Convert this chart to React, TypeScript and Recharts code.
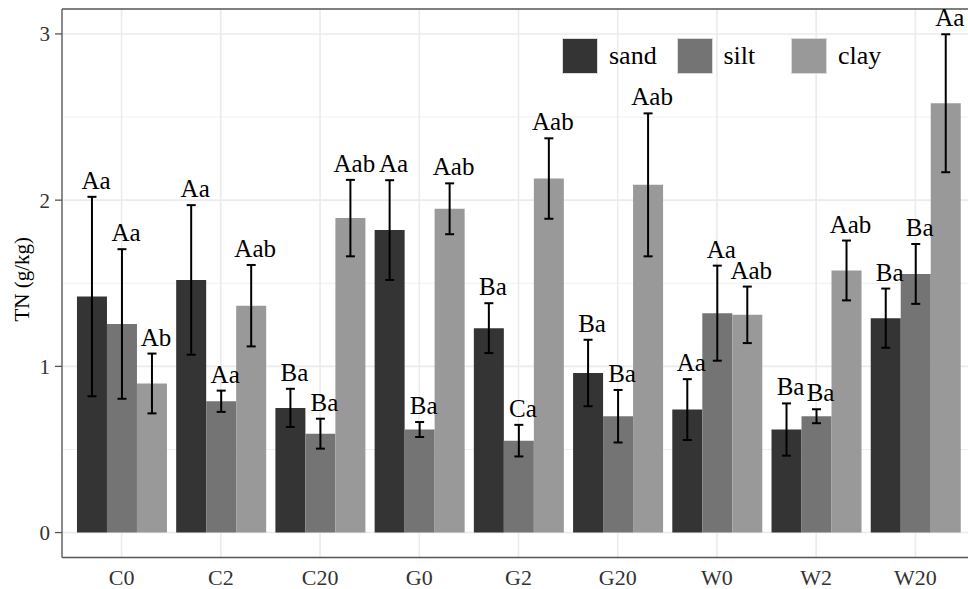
import {
  BarChart,
  Bar,
  XAxis,
  YAxis,
  CartesianGrid,
  ErrorBar,
  LabelList,
  Legend,
  ReferenceLine,
} from "recharts";

const treatments = ["C0", "C2", "C20", "G0", "G2", "G20", "W0", "W2", "W20"];

const sandMean = [1.42, 1.52, 0.75, 1.82, 1.23, 0.96, 0.74, 0.62, 1.29];
const sandSe = [0.6, 0.45, 0.115, 0.3, 0.15, 0.2, 0.183, 0.157, 0.178];
const sandLetters = ["Aa", "Aa", "Ba", "Aa", "Ba", "Ba", "Aa", "Ba", "Ba"];

const siltMean = [1.255, 0.79, 0.595, 0.62, 0.553, 0.7, 1.32, 0.7, 1.556];
const siltSe = [0.45, 0.064, 0.09, 0.045, 0.095, 0.158, 0.286, 0.042, 0.18];
const siltLetters = ["Aa", "Aa", "Ba", "Ba", "Ca", "Ba", "Aa", "Ba", "Ba"];

const clayMean = [0.897, 1.365, 1.892, 1.948, 2.13, 2.092, 1.31, 1.577, 2.583];
const claySe = [0.18, 0.245, 0.23, 0.153, 0.242, 0.43, 0.17, 0.18, 0.415];
const clayLetters = ["Ab", "Aab", "Aab", "Aab", "Aab", "Aab", "Aab", "Aab", "Aa"];

const seriesOrder = ["sand", "silt", "clay"];
const yTicks = [0, 1, 2, 3];
const minorTicks = [0.5, 1.5, 2.5];

const data = treatments.map((name, i) => ({
  name,
  sand: sandMean[i],
  sandSe: sandSe[i],
  silt: siltMean[i],
  siltSe: siltSe[i],
  clay: clayMean[i],
  claySe: claySe[i],
}));

const FONT = "Liberation Serif";

// letters sit just above the top of each error bar
const letterLabel =
  (means: number[], ses: number[], letters: string[]) => (props: any) => {
    const x = Number(props.x);
    const y = Number(props.y);
    const w = Number(props.width);
    const h = Number(props.height);
    const i = props.index;
    const perUnit = h / means[i];
    const top = y - ses[i] * perUnit;
    return (
      <text
        x={x + w / 2 + 4}
        y={top - 8}
        textAnchor="middle"
        style={{ fontFamily: FONT, fontSize: 25 }}
        fill="#000"
      >
        {letters[i]}
      </text>
    );
  };

function LegendBox(props: any) {
  const items = [...(props.payload || [])].sort(
    (a: any, b: any) => seriesOrder.indexOf(a.value) - seriesOrder.indexOf(b.value)
  );
  return (
    <div style={{ display: "flex", fontFamily: FONT, fontSize: 26 }}>
      {items.map((it: any) => (
        <div
          key={it.value}
          style={{ display: "flex", alignItems: "center", width: 114.5 }}
        >
          <div
            style={{
              width: 34,
              height: 34,
              background: it.color,
              border: "1px solid #d9d9d9",
              marginRight: 11,
            }}
          />
          <span style={{ color: "#000", lineHeight: "34px" }}>{it.value}</span>
        </div>
      ))}
    </div>
  );
}

export default function App() {
  return (
    <div
      style={{
        position: "fixed",
        left: 0,
        top: 0,
        width: 968,
        height: 589,
        overflow: "hidden",
        background: "#fff",
        fontFamily: FONT,
      }}
    >
      <BarChart
        width={990}
        height={589}
        data={data}
        margin={{ top: 9, right: 15, left: 0, bottom: 0 }}
        barCategoryGap="5%"
        barGap={0}
        style={{ fontFamily: FONT }}
      >
        <CartesianGrid
          horizontalValues={minorTicks}
          vertical={false}
          stroke="#f0f0f0"
          strokeWidth={1}
        />
        <CartesianGrid
          horizontalValues={yTicks}
          stroke="#ebebeb"
          strokeWidth={1.6}
        />
        <XAxis
          dataKey="name"
          padding={{ left: 10, right: 10 }}
          height={31.5}
          tickLine={false}
          tickSize={6}
          tickMargin={6}
          axisLine={{ stroke: "#555", strokeWidth: 1.3 }}
          tick={{ fontSize: 22, fontFamily: FONT, fill: "#333" }}
        />
        <YAxis
          type="number"
          domain={[-0.15, 3.15]}
          ticks={yTicks}
          width={62}
          tickSize={7}
          tickMargin={5}
          tickLine={{ stroke: "#555", strokeWidth: 1.3 }}
          axisLine={{ stroke: "#555", strokeWidth: 1.3 }}
          tick={{ fontSize: 21, fontFamily: FONT, fill: "#333" }}
          label={{
            content: (p: any) => {
              const vb = p.viewBox || {};
              const cx = 22;
              const cy = (vb.y || 0) + (vb.height || 0) / 2 - 4;
              return (
                <text
                  x={cx}
                  y={cy}
                  transform={`rotate(-90, ${cx}, ${cy})`}
                  textAnchor="middle"
                  dominantBaseline="central"
                  style={{ fontFamily: FONT, fontSize: 21 }}
                  fill="#000"
                >
                  TN (g/kg)
                </text>
              );
            },
          }}
        />
        <ReferenceLine y={3.15} stroke="#555" strokeWidth={1.3} />
        <Legend
          layout="horizontal"
          verticalAlign="middle"
          align="center"
          content={<LegendBox />}
          wrapperStyle={{ left: 562, top: 38, width: "auto", height: "auto" }}
        />
        <Bar dataKey="sand" name="sand" fill="#343434" isAnimationActive={false}>
          <ErrorBar dataKey="sandSe" direction="y" width={4.5} strokeWidth={2} stroke="#000" />
          <LabelList content={letterLabel(sandMean, sandSe, sandLetters)} />
        </Bar>
        <Bar dataKey="silt" name="silt" fill="#747474" isAnimationActive={false}>
          <ErrorBar dataKey="siltSe" direction="y" width={4.5} strokeWidth={2} stroke="#000" />
          <LabelList content={letterLabel(siltMean, siltSe, siltLetters)} />
        </Bar>
        <Bar dataKey="clay" name="clay" fill="#999999" isAnimationActive={false}>
          <ErrorBar dataKey="claySe" direction="y" width={4.5} strokeWidth={2} stroke="#000" />
          <LabelList content={letterLabel(clayMean, claySe, clayLetters)} />
        </Bar>
      </BarChart>
    </div>
  );
}
